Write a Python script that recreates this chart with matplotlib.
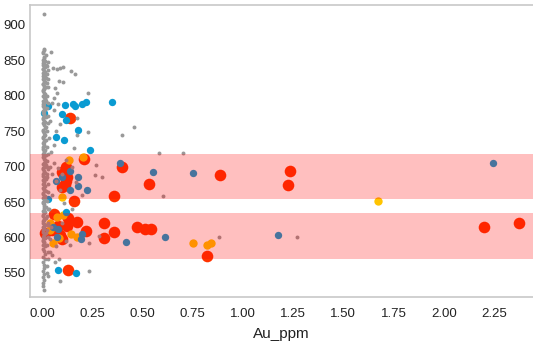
import matplotlib
matplotlib.use("Agg")
import matplotlib.pyplot as plt

plt.rcParams['font.family'] = ['Liberation Sans', 'DejaVu Sans']

# ---- data ----
red_x = [0.14, 0.21, 0.12, 0.40, 0.886, 0.125, 0.115, 0.53, 0.16, 0.36, 0.10, 1.234, 1.225,
         0.06, 0.13, 0.08, 0.175, 0.125, 0.31, 0.22, 0.36, 0.475, 0.51, 0.54, 0.015, 0.10,
         0.31, 0.82, 0.13, 2.20, 2.374, 0.05, 0.09, 0.12, 0.10]
red_y = [769, 711, 700, 700, 688, 685, 674, 676, 652, 659, 671, 694, 674,
         633, 627, 616, 622, 616, 621, 609, 608, 615, 612, 612, 607, 598,
         599, 574, 554, 615, 621, 610, 604, 680, 692]

blue_x = [0.35, 0.22, 0.20, 0.165, 0.155, 0.115, 0.03, 0.01, 0.10, 0.12, 0.18, 0.07, 0.11,
          0.24, 0.08, 0.17, 0.03, 0.12,
          0.39, 0.55, 0.75, 0.18, 0.18, 0.225, 0.14, 0.14, 0.42, 0.61, 0.20, 0.195, 0.075,
          0.055, 0.08, 1.175, 2.245, 0.07, 0.10]
blue_y = [791, 791, 789, 786, 789, 787, 786, 776, 774, 766, 752, 742, 737,
          724, 554, 550, 654, 636,
          705, 693, 691, 685, 673, 667, 694, 667, 594, 601, 605, 598, 601,
          615, 612, 603, 705, 680, 686]

gold_x = [0.205, 0.135, 0.10, 0.75, 0.82, 0.84, 0.145, 0.175, 0.04, 0.085, 0.055, 0.075,
          0.105, 0.04, 1.673]
gold_y = [714, 709, 657, 592, 590, 592, 605, 601, 620, 599, 592, 629,
          631, 611, 652]

# dense column of near-zero grades
col_x = [0.010, 0.012, 0.005, 0.018, 0.008, 0.015, 0.004, 0.020, 0.010, 0.006, 0.016, 0.012,
         0.003, 0.022, 0.009, 0.014, 0.006, 0.019, 0.011, 0.004, 0.017, 0.008, 0.013, 0.021,
         0.005, 0.010, 0.016, 0.007, 0.012, 0.020, 0.004, 0.015, 0.009, 0.018, 0.006, 0.011,
         0.014, 0.003, 0.019, 0.008, 0.012, 0.005, 0.017, 0.010, 0.022, 0.006, 0.014, 0.009,
         0.018, 0.004, 0.012, 0.016, 0.007, 0.020, 0.011, 0.005, 0.015, 0.009, 0.019, 0.006,
         0.013, 0.017, 0.004, 0.010, 0.021, 0.008, 0.014, 0.005, 0.018, 0.011, 0.007, 0.016,
         0.012, 0.004, 0.019, 0.009, 0.014, 0.006, 0.011, 0.017, 0.005, 0.010, 0.013, 0.007,
         0.015, 0.004, 0.009, 0.012, 0.006, 0.010, 0.005, 0.008, 0.007, 0.006, 0.009]
col_y = [915, 866, 862, 858, 853, 849, 846, 843, 840, 837, 834, 831,
         828, 825, 822, 819, 816, 813, 810, 806, 802, 798, 795, 792,
         788, 785, 781, 778, 774, 770, 767, 763, 760, 756, 752, 749,
         745, 742, 738, 735, 731, 727, 724, 720, 716, 713, 709, 705,
         702, 698, 694, 691, 687, 683, 680, 676, 672, 669, 665, 661,
         658, 654, 650, 647, 643, 639, 636, 632, 628, 625, 621, 617,
         614, 610, 606, 603, 599, 595, 592, 588, 584, 581, 577, 573,
         569, 565, 561, 557, 553, 548, 544, 540, 536, 531, 526]
col2_x = [0.008, 0.004, 0.012, 0.006, 0.010, 0.003, 0.014, 0.007, 0.011, 0.005, 0.009, 0.013,
          0.006, 0.010, 0.004, 0.012, 0.008, 0.005, 0.011, 0.007, 0.013, 0.004, 0.009, 0.006,
          0.012, 0.008, 0.005, 0.010, 0.007, 0.011, 0.004, 0.009, 0.013, 0.006, 0.010, 0.008,
          0.005, 0.012, 0.007, 0.009, 0.004, 0.011, 0.006, 0.010, 0.008, 0.013, 0.005, 0.009,
          0.007, 0.011, 0.004, 0.010, 0.006, 0.012, 0.008, 0.005, 0.009, 0.007, 0.011, 0.006,
          0.010, 0.004, 0.008, 0.012, 0.006, 0.009, 0.005, 0.011, 0.007, 0.010, 0.004, 0.008,
          0.006, 0.009, 0.005, 0.007, 0.008, 0.006]
col2_y = [864, 860, 855, 851, 847, 844, 841, 838, 835, 832, 829, 826,
          823, 820, 817, 814, 811, 808, 804, 800, 796, 793, 790, 786,
          783, 779, 776, 772, 768, 765, 761, 758, 754, 750, 747, 743,
          740, 736, 733, 729, 725, 722, 718, 714, 711, 707, 703, 700,
          696, 692, 689, 685, 681, 678, 674, 670, 667, 663, 659, 656,
          652, 648, 645, 641, 637, 634, 630, 626, 623, 619, 615, 612,
          608, 604, 601, 597, 593, 590]
col3_x = [0.028, 0.025, 0.030, 0.026, 0.032, 0.024, 0.029, 0.027, 0.031, 0.025, 0.028, 0.030,
          0.026, 0.033, 0.024, 0.029, 0.027, 0.031, 0.025, 0.028, 0.030, 0.026, 0.032, 0.024,
          0.029, 0.027, 0.031, 0.025, 0.028, 0.030, 0.026, 0.024, 0.029, 0.027, 0.025, 0.028]
col3_y = [848, 842, 836, 830, 824, 818, 812, 800, 790, 782, 772, 762,
          750, 740, 728, 718, 708, 696, 686, 676, 664, 652, 640, 630,
          620, 610, 600, 590, 580, 570, 560, 550, 545, 700, 690, 618]

# scattered low-grade samples
sc_x = [0.045, 0.055, 0.075, 0.09, 0.105, 0.145, 0.165, 0.085, 0.105, 0.065, 0.075, 0.23,
        0.06, 0.05, 0.08, 0.175, 0.46, 0.40, 0.23, 0.175, 0.09, 0.06, 0.16, 0.58, 0.70,
        0.27, 0.30, 0.265, 0.60, 0.88, 1.27, 0.285, 0.235, 0.14, 0.235, 0.09, 0.085, 0.065,
        0.05, 0.06, 0.08, 0.10, 0.07, 0.09, 0.05, 0.11, 0.12, 0.15, 0.045, 0.06, 0.07,
        0.04, 0.10, 0.12, 0.07, 0.04, 0.15, 0.20, 0.17, 0.04, 0.05, 0.035, 0.045, 0.04]
sc_y = [862, 839, 837, 839, 841, 835, 831, 821, 820, 811, 804, 804,
        797, 790, 788, 769, 756, 745, 749, 745, 760, 780, 726, 719, 719,
        702, 686, 688, 659, 601, 601, 602, 592, 590, 553, 539, 570, 565,
        575, 705, 698, 690, 680, 667, 660, 648, 710, 700, 720, 730, 750,
        765, 620, 595, 588, 580, 640, 660, 678, 700, 690, 640, 615, 598]

bands = [(654, 718), (570, 635)]
xticks = [0.00, 0.25, 0.50, 0.75, 1.00, 1.25, 1.50, 1.75, 2.00, 2.25]
yticks = [550, 600, 650, 700, 750, 800, 850, 900]

# ---- figure ----
fig = plt.figure(figsize=(5.33, 3.41), dpi=100)
ax = fig.add_axes([30 / 533, 44 / 341, 503 / 533, 292 / 341])

ax.scatter(red_x, red_y, s=70, c="#ff3300", linewidths=0, zorder=2)
ax.scatter(gold_x, gold_y, s=36, c="#ffc400", linewidths=0, zorder=2.2)
ax.scatter(blue_x, blue_y, s=28, c="#0a9bd2", linewidths=0, zorder=2.4)
gray_kw = dict(s=8, c="#999999", linewidths=0, zorder=2.6)
ax.scatter(col_x, col_y, **gray_kw)
ax.scatter(col2_x, col2_y, **gray_kw)
ax.scatter(col3_x, col3_y, **gray_kw)
ax.scatter(sc_x, sc_y, **gray_kw)

for lo, hi in bands:
    ax.axhspan(lo, hi, color="#ff0000", alpha=0.25, linewidth=0, zorder=3)

ax.set_xlim(-0.06, 2.444)
ax.set_ylim(516, 928)
ax.set_xticks(xticks)
ax.set_xticklabels([f"{v:.2f}" for v in xticks])
ax.set_yticks(yticks)
ax.tick_params(axis="both", length=0, labelsize=9.5, colors="#222222")
ax.tick_params(axis="x", pad=8)
ax.tick_params(axis="y", pad=3)
ax.set_xlabel("Au_ppm", fontsize=11, color="#222222", labelpad=5)

for side in ["left", "bottom", "top"]:
    ax.spines[side].set_color("#c8c8c8")
    ax.spines[side].set_linewidth(1.2)
ax.spines["right"].set_visible(False)

fig.text(0.49, 1.0 + 4.5 / 341, "Gypsy Au_vs_RL_m_ore", ha="center", va="baseline",
         fontsize=17, color="#333333")

fig.savefig("out.png", dpi=100)
